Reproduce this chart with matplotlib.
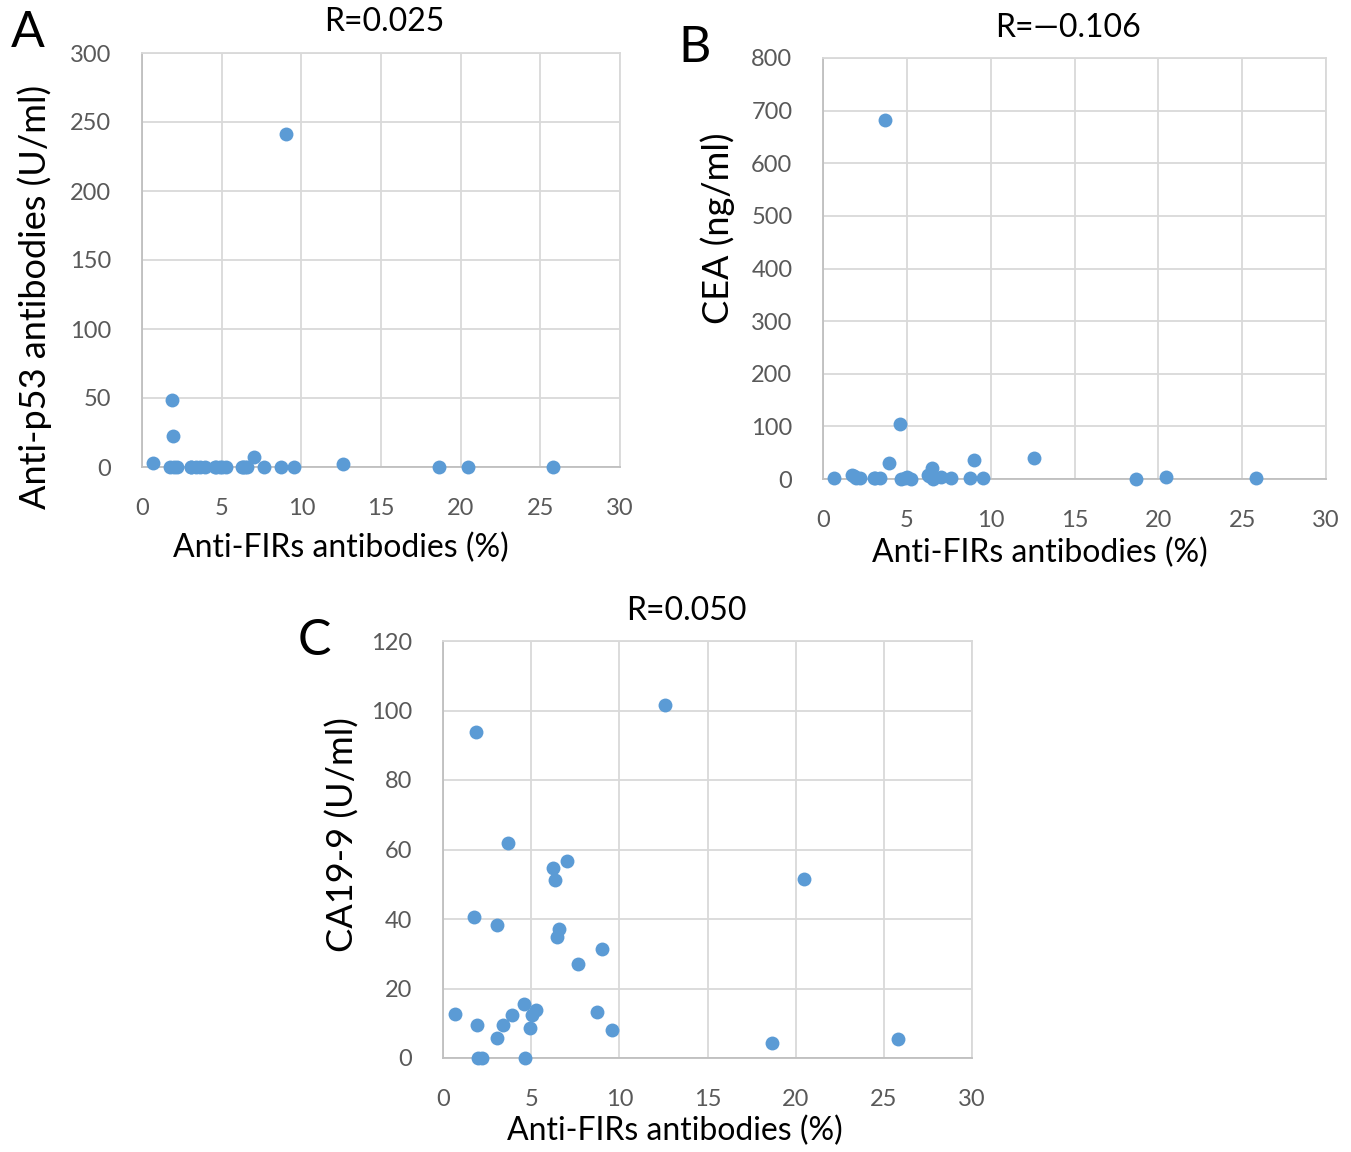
import matplotlib
matplotlib.use("Agg")
import matplotlib.pyplot as plt

# Shared x values: Anti-FIRs antibodies (%)
firs = [0.68, 1.74, 1.86, 1.93, 1.99, 2.19, 3.07, 3.09, 3.38, 3.67, 3.93, 4.59, 4.63, 4.92,
        5.02, 5.26, 6.25, 6.35, 6.49, 6.57, 7.02, 7.66, 8.74, 9.03, 9.56, 12.6, 18.66, 20.46, 25.8]
# Panel A: Anti-p53 antibodies (U/ml)
p53 = [3, 0, 48.5, 22.7, 0, 0, 0, 0, 0, 0, 0, 0, 0, 0,
       0, 0, 0, 0, 0, 0, 7.5, 0, 0, 241, 0, 2, 0, 0, 0]
# Panel B: CEA (ng/ml)
cea = [1, 7, 5, 3, 2, 2, 1, 1, 1, 682, 29.6, 105, 0, 2,
       3, 0, 7, 5, 20, 0, 3, 2, 1, 36, 1, 39, 0, 4, 1]
# Panel C: CA19-9 (U/ml)
ca199 = [12.8, 40.5, 93.8, 9.4, 0, 0, 38.4, 5.8, 9.4, 61.9, 12.3, 15.6, 0, 8.6,
         12.5, 13.9, 54.8, 51.2, 34.7, 37.1, 56.6, 27.1, 13.1, 31.4, 8.0, 101.5, 4.4, 51.4, 5.6]

titles = ["R=0.025", "R=\u20140.106", "R=0.050"]
ylabels = ["Anti-p53 antibodies (U/ml)", "CEA (ng/ml)", "CA19-9 (U/ml)"]
xlabel = "Anti-FIRs antibodies (%)"
xticks = [0, 5, 10, 15, 20, 25, 30]
yticks_a = [0, 50, 100, 150, 200, 250, 300]
yticks_b = [0, 100, 200, 300, 400, 500, 600, 700, 800]
yticks_c = [0, 20, 40, 60, 80, 100, 120]
letters = ["A", "B", "C"]

W, H = 1351, 1152
plt.rcParams['font.family'] = ['Lato', 'DejaVu Sans']
fig = plt.figure(figsize=(W / 100, H / 100), dpi=100)

def px(x, y):
    return x / W, 1 - y / H

def make_ax(l, t, r, b):
    return fig.add_axes([l / W, 1 - b / H, (r - l) / W, (b - t) / H])

blue = "#5B9BD5"
grid = "#d9d9d9"
tickc = "#595959"

specs = [
    dict(box=(142, 53, 620, 467), y=p53, yt=yticks_a, title=(384, 22), xl=(341, 548), yl=(35, 297), let=(28, 33)),
    dict(box=(823, 58, 1326, 479), y=cea, yt=yticks_b, title=(1068, 28), xl=(1040, 553), yl=(718, 228), let=(695, 48)),
    dict(box=(443, 641, 972, 1058), y=ca199, yt=yticks_c, title=(686, 611), xl=(675, 1131), yl=(343, 835), let=(314, 641)),
]

for i, s in enumerate(specs):
    ax = make_ax(*s['box'])
    ax.scatter(firs, s['y'], s=100, color=blue, zorder=3, linewidths=0, clip_on=False)
    ax.set_xlim(0, 30)
    ax.set_ylim(s['yt'][0], s['yt'][-1])
    ax.set_xticks(xticks)
    ax.set_yticks(s['yt'])
    ax.grid(True, color=grid, linewidth=1.3)
    ax.set_axisbelow(True)
    for sp in ax.spines.values():
        sp.set_color(grid)
        sp.set_linewidth(1.3)
    ax.spines['left'].set_color("#bfbfbf")
    ax.spines['bottom'].set_color("#bfbfbf")
    ax.tick_params(length=0, labelsize=17, labelcolor=tickc)
    ax.tick_params(axis='x', pad=22)
    ax.tick_params(axis='y', pad=22)
    fig.text(*px(*s['title']), titles[i], ha='center', va='center', fontsize=23, color='black')
    fig.text(*px(*s['xl']), xlabel, ha='center', va='center', fontsize=23, color='black')
    fig.text(*px(*s['yl']), ylabels[i], ha='center', va='center', fontsize=26, color='black', rotation=90)
    fig.text(*px(*s['let']), letters[i], ha='center', va='center', fontsize=36, color='black')

fig.savefig("out.png", dpi=100)
